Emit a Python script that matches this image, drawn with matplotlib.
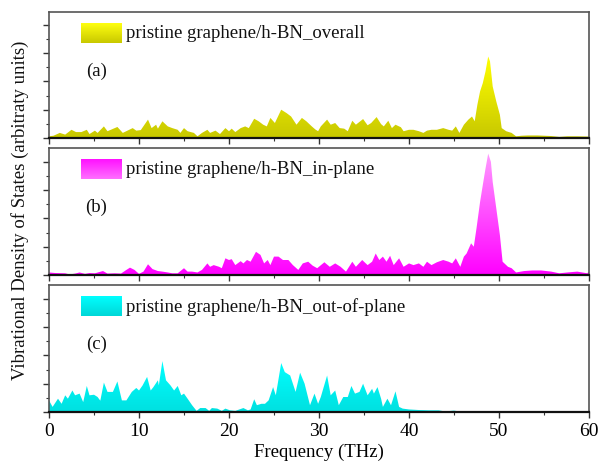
import numpy as np
import matplotlib
matplotlib.use("Agg")
import matplotlib.pyplot as plt
from matplotlib.colors import LinearSegmentedColormap
from matplotlib.patches import PathPatch
from matplotlib.ticker import MultipleLocator, NullFormatter

# ---------------- data ----------------
freq_a = [0.0, 0.5, 1.2, 1.8, 2.5, 3.0, 3.6, 4.2, 4.5, 5.1, 5.4, 6.1, 6.5, 7.6, 8.2, 9.3, 9.7, 10.2,
          11.0, 11.4, 11.9, 12.1, 12.6, 13.2, 13.7, 14.3, 14.6, 15.0, 15.4, 16.1, 16.5, 17.0, 17.6,
          17.9, 18.5, 19.0, 19.6, 20.0, 20.3, 20.7, 21.3, 21.8, 22.2, 22.8, 23.3, 23.8, 24.2, 24.6,
          25.1, 25.8, 26.4, 26.9, 27.5, 28.1, 28.6, 29.2, 29.6, 29.9, 30.2, 30.9, 31.3, 31.8, 32.3,
          32.8, 33.2, 33.7, 34.1, 34.9, 35.4, 35.8, 36.4, 36.9, 37.2, 37.7, 38.1, 38.5, 39.1, 39.4,
          40.0, 40.5, 41.1, 41.6, 42.0, 42.5, 43.1, 43.8, 44.4, 44.8, 45.2, 45.6, 46.1, 46.6, 47.0,
          47.3, 47.6, 47.9, 48.2, 48.5, 48.8, 49.0, 49.3, 49.7, 50.1, 50.3, 50.8, 51.4, 51.9, 52.5,
          53.2, 54.3, 55.8, 56.7, 57.6, 58.7, 60.0]
dos_overall = [0.06, 0.08, 0.18, 0.12, 0.29, 0.21, 0.21, 0.29, 0.14, 0.26, 0.18, 0.41, 0.24, 0.39,
               0.18, 0.35, 0.26, 0.28, 0.65, 0.35, 0.47, 0.33, 0.59, 0.41, 0.35, 0.29, 0.18, 0.35,
               0.24, 0.18, 0.06, 0.18, 0.29, 0.18, 0.26, 0.14, 0.35, 0.24, 0.33, 0.21, 0.35, 0.41,
               0.35, 0.68, 0.59, 0.47, 0.41, 0.71, 0.53, 1.00, 0.88, 0.76, 0.47, 0.71, 0.59, 0.41,
               0.30, 0.24, 0.41, 0.65, 0.47, 0.53, 0.35, 0.33, 0.24, 0.61, 0.47, 0.67, 0.45, 0.53,
               0.74, 0.49, 0.41, 0.61, 0.35, 0.47, 0.38, 0.24, 0.29, 0.29, 0.24, 0.18, 0.26, 0.29,
               0.29, 0.35, 0.29, 0.26, 0.41, 0.18, 0.47, 0.65, 0.76, 0.59, 1.18, 1.65, 1.94, 2.35,
               2.88, 2.71, 1.82, 1.29, 0.82, 0.35, 0.24, 0.18, 0.06, 0.08, 0.09, 0.09, 0.07, 0.04,
               0.06, 0.06, 0.05]

freq_b = [0.0, 0.7, 1.8, 2.3, 2.9, 3.4, 4.0, 4.5, 5.1, 6.0, 6.5, 7.3, 8.0, 8.6, 9.0, 9.5, 10.0, 10.5,
          11.0, 11.5, 12.1, 12.6, 13.2, 13.7, 14.3, 15.0, 15.4, 15.9, 16.5, 17.0, 17.6, 17.9, 18.3,
          18.9, 19.2, 19.6, 20.0, 20.3, 20.7, 21.3, 21.6, 22.0, 22.4, 23.0, 23.5, 23.9, 24.3, 24.6,
          25.0, 25.5, 26.0, 26.6, 27.1, 27.7, 28.2, 28.8, 29.3, 29.8, 30.6, 31.2, 31.8, 32.4, 33.0,
          33.7, 34.1, 34.8, 35.4, 35.9, 36.3, 36.7, 37.1, 37.5, 37.9, 38.3, 38.9, 39.4, 40.0, 40.5,
          41.1, 41.6, 42.0, 42.5, 43.1, 43.8, 44.4, 44.8, 45.2, 45.7, 46.1, 46.4, 46.9, 47.2, 47.5,
          47.9, 48.2, 48.5, 48.8, 49.1, 49.3, 49.7, 50.1, 50.4, 51.0, 51.4, 51.9, 52.8, 53.7, 54.7,
          55.8, 56.7, 57.6, 58.7, 59.8, 60.0]
dos_inplane = [0.09, 0.07, 0.06, 0.02, 0.05, 0.09, 0.04, 0.07, 0.06, 0.14, 0.05, 0.06, 0.05, 0.18,
               0.26, 0.18, 0.04, 0.12, 0.38, 0.21, 0.14, 0.12, 0.09, 0.06, 0.06, 0.24, 0.12, 0.12,
               0.09, 0.18, 0.41, 0.29, 0.35, 0.29, 0.24, 0.59, 0.53, 0.56, 0.35, 0.49, 0.41, 0.53,
               0.47, 0.82, 0.71, 0.41, 0.53, 0.35, 0.65, 0.65, 0.53, 0.53, 0.35, 0.18, 0.41, 0.47,
               0.33, 0.24, 0.45, 0.29, 0.41, 0.29, 0.12, 0.47, 0.29, 0.53, 0.35, 0.47, 0.76, 0.53,
               0.65, 0.47, 0.68, 0.35, 0.59, 0.29, 0.41, 0.35, 0.41, 0.29, 0.47, 0.35, 0.45, 0.53,
               0.47, 0.41, 0.59, 0.29, 0.65, 0.76, 1.12, 1.00, 1.65, 2.59, 3.18, 3.76, 4.29, 4.00,
               3.29, 2.35, 1.41, 0.47, 0.29, 0.24, 0.09, 0.14, 0.16, 0.16, 0.12, 0.06, 0.09, 0.12,
               0.06, 0.12]

freq_c = [0.0, 0.4, 1.0, 1.4, 1.8, 2.1, 2.6, 2.9, 3.4, 3.8, 4.2, 4.5, 5.0, 5.4, 5.7, 6.1, 6.5, 7.1,
          7.6, 8.1, 8.6, 9.2, 9.7, 10.0, 10.4, 10.9, 11.3, 11.6, 12.1, 12.2, 12.6, 13.0, 13.5, 13.9,
          14.3, 14.7, 15.0, 15.4, 15.9, 16.4, 16.8, 17.4, 17.8, 18.1, 18.7, 19.2, 19.6, 20.1, 20.7,
          21.6, 22.1, 22.4, 22.8, 23.1, 23.6, 24.0, 24.4, 24.9, 25.2, 25.8, 26.2, 26.8, 27.4, 27.9,
          28.4, 29.0, 29.5, 29.9, 30.2, 30.9, 31.3, 31.8, 32.2, 32.7, 33.2, 33.6, 34.0, 34.5, 34.9,
          35.4, 35.9, 36.1, 36.5, 36.9, 37.1, 37.6, 38.0, 38.5, 38.9, 39.3, 40.0, 41.1, 42.2, 43.3,
          44.0, 45.0, 45.8, 47.3, 48.8, 50.6, 52.1, 54.3, 57.2, 59.7, 60.0]
dos_outplane = [0.41, 0.18, 0.47, 0.29, 0.59, 0.47, 0.76, 0.59, 0.65, 0.35, 0.92, 0.59, 0.61, 0.53,
                0.40, 1.04, 0.71, 0.71, 1.08, 0.41, 0.41, 0.71, 0.85, 0.76, 0.94, 1.24, 0.76, 0.88,
                1.12, 0.94, 1.80, 1.12, 0.94, 0.76, 0.92, 0.59, 0.65, 0.47, 0.24, 0.04, 0.14, 0.14,
                0.04, 0.14, 0.12, 0.04, 0.12, 0.06, 0.04, 0.14, 0.06, 0.09, 0.45, 0.24, 0.29, 0.29,
                0.41, 0.88, 0.59, 1.73, 1.41, 1.29, 0.71, 1.39, 1.00, 0.24, 0.65, 0.29, 0.53, 1.29,
                0.59, 0.76, 0.24, 0.53, 0.53, 0.92, 0.65, 0.71, 1.00, 0.59, 0.82, 0.65, 0.88, 0.47,
                0.18, 0.47, 0.24, 0.73, 0.18, 0.12, 0.09, 0.07, 0.06, 0.06, 0.02, 0.05, 0.01, 0.02,
                0.01, 0.01, 0.01, 0.01, 0.01, 0.01, 0.01]

series_labels = ["pristine graphene/h-BN_overall",
                 "pristine graphene/h-BN_in-plane",
                 "pristine graphene/h-BN_out-of-plane"]
panel_tags = ["(a)", "(b)", "(c)"]
x_ticks = [0, 10, 20, 30, 40, 50, 60]
x_label = "Frequency (THz)"
y_label = "Vibrational Density of States (arbitraty units)"

# (bottom colour, top colour) of the fill gradients, legend gradients (top, bottom)
fill_grad = [("#c8c800", "#ffff00"), ("#ff00ff", "#ff99ff"), ("#00e0e0", "#00ffff")]
leg_grad = [("#ffff10", "#c8c800"), ("#ff10ff", "#ff70ff"), ("#00ffff", "#00d6d6")]

# ---------------- figure ----------------
plt.rcParams['font.family'] = ['Liberation Serif', 'DejaVu Serif']
fig = plt.figure(figsize=(6.01, 4.64), dpi=100)

W, H = 601.0, 464.0
left_px, right_px = 49, 589
panels_px = [(13, 139), (149, 276), (286, 413)]
px_per_unit = 28.3
XMAX = 60

data = [(freq_a, dos_overall), (freq_b, dos_inplane), (freq_c, dos_outplane)]

for i, ((top, bot), (fx, fy)) in enumerate(zip(panels_px, data)):
    ax = fig.add_axes([left_px / W, 1 - bot / H, (right_px - left_px) / W, (bot - top) / H])
    ymax = (bot - top) / px_per_unit
    fx = np.asarray(fx, float)
    fy = np.asarray(fy, float)

    # gradient-filled area
    poly = ax.fill_between(fx, 0, fy, facecolor='none', edgecolor='none')
    path = poly.get_paths()[0]
    clip = PathPatch(path, transform=ax.transData, facecolor='none', edgecolor='none')
    ax.add_patch(clip)
    cmap = LinearSegmentedColormap.from_list("g%d" % i, list(fill_grad[i]))
    grad = np.linspace(0, 1, 256)[:, None]
    im = ax.imshow(grad, cmap=cmap, aspect='auto', origin='lower',
                   extent=[0, XMAX, 0, fy.max()], zorder=2, interpolation='bilinear')
    im.set_clip_path(clip)

    # legend swatch (gradient) + text
    lx0, lx1, ly0, ly1 = 0.059, 0.134, 0.755, 0.91
    lcmap = LinearSegmentedColormap.from_list("l%d" % i, [leg_grad[i][1], leg_grad[i][0]])
    ax.imshow(grad, cmap=lcmap, aspect='auto', origin='lower',
              extent=[lx0 * XMAX, lx1 * XMAX, ly0 * ymax, ly1 * ymax], zorder=3,
              interpolation='bilinear')
    ax.text(0.142, 0.835, series_labels[i], transform=ax.transAxes, fontsize=13.5,
            va='center', ha='left', color='#111111')
    ax.text(0.088, 0.54, panel_tags[i], transform=ax.transAxes, fontsize=13.5,
            va='center', ha='center', color='#111111')

    ax.set_xlim(0, XMAX)
    ax.set_ylim(0, ymax)
    ax.xaxis.set_major_locator(MultipleLocator(10))
    ax.xaxis.set_minor_locator(MultipleLocator(5))
    ax.yaxis.set_major_locator(MultipleLocator(1))
    ax.yaxis.set_minor_locator(MultipleLocator(0.5))
    ax.yaxis.set_major_formatter(NullFormatter())
    ax.tick_params(axis='both', which='major', direction='out', length=4, width=1.0, color='#333333')
    ax.tick_params(axis='both', which='minor', direction='out', length=2.5, width=0.8, color='#333333')
    ax.tick_params(axis='y', which='both', labelleft=False)
    if i < 2:
        ax.tick_params(axis='x', which='both', labelbottom=False)
    else:
        ax.set_xticks(x_ticks)
        ax.tick_params(axis='x', labelsize=14, pad=3)
        ax.set_xlabel(x_label, fontsize=13.5, labelpad=3)
    for s in ['top', 'right', 'left']:
        ax.spines[s].set_color('#555555')
        ax.spines[s].set_linewidth(1.2)
    ax.spines['bottom'].set_color('#111111')
    ax.spines['bottom'].set_linewidth(1.6)

fig.text(20 / W, 1 - 210 / H, y_label, rotation=90, fontsize=13.5, va='center', ha='center',
         color='#111111')

fig.savefig("out.png", dpi=100)
